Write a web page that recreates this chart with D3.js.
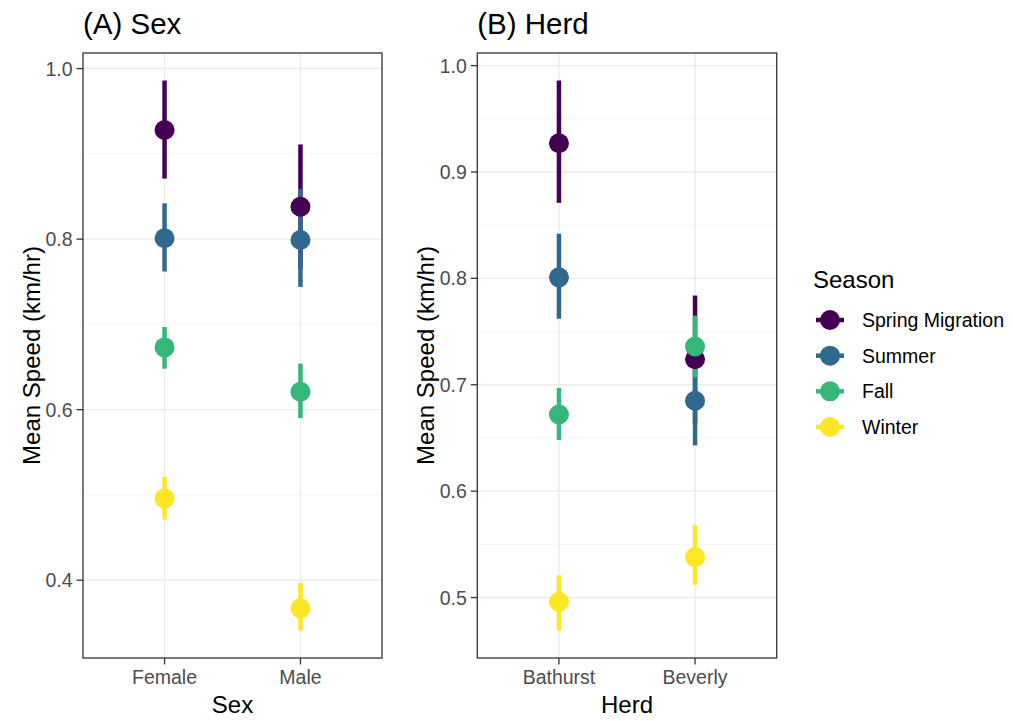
<!DOCTYPE html>
<html>
<head>
<meta charset="utf-8">
<script src="https://cdn.jsdelivr.net/npm/d3@7"></script>
<style>
  body { margin: 0; background: #fff; }
  svg { font-family: "Liberation Sans", Arial, sans-serif; }
  .grid-major { stroke: #ebebeb; stroke-width: 1.4; }
  .grid-minor { stroke: #f2f2f2; stroke-width: 0.8; }
  .tick-label { fill: #4d4d4d; font-size: 19.5px; }
  .axis-title { fill: #000; font-size: 24px; }
  .plot-title { fill: #000; font-size: 29.5px; }
</style>
</head>
<body>
<svg id="chart" width="1013" height="721"></svg>
<script>
'use strict';

/* DATA */
var seasons = ['Spring Migration', 'Summer', 'Fall', 'Winter'];
var seasonColors = ['#440154', '#31688e', '#35b779', '#fde725'];

var sexCats = ['Female', 'Male'];
// [season][category]
var sexMean  = [[0.928, 0.838], [0.801, 0.799], [0.673, 0.621], [0.496, 0.367]];
var sexLower = [[0.871, 0.765], [0.762, 0.744], [0.648, 0.590], [0.471, 0.341]];
var sexUpper = [[0.986, 0.911], [0.842, 0.859], [0.697, 0.654], [0.521, 0.397]];
var sexTicks = [0.4, 0.6, 0.8, 1.0];
var sexMinor = [0.5, 0.7, 0.9];

var herdCats = ['Bathurst', 'Beverly'];
var herdMean  = [[0.927, 0.724], [0.801, 0.685], [0.672, 0.736], [0.496, 0.538]];
var herdLower = [[0.871, 0.664], [0.762, 0.643], [0.648, 0.707], [0.469, 0.512]];
var herdUpper = [[0.986, 0.784], [0.842, 0.727], [0.697, 0.765], [0.521, 0.568]];
var herdTicks = [0.5, 0.6, 0.7, 0.8, 0.9, 1.0];
var herdMinor = [0.55, 0.65, 0.75, 0.85, 0.95];

var svg = d3.select('#chart');

var panelTop = 53, panelBottom = 658;

/* one panel of pointranges */
function drawPanel(opts) {
  var g = svg.append('g');
  var left = opts.left, right = opts.right;

  // flatten to rows
  var rows = [];
  seasons.forEach(function (s, si) {
    opts.cats.forEach(function (c, ci) {
      rows.push({
        season: si, cat: c,
        mean: opts.mean[si][ci], lo: opts.lower[si][ci], hi: opts.upper[si][ci]
      });
    });
  });

  // 5% expansion of the data range, like ggplot
  var ymin = d3.min(rows, function (d) { return d.lo; });
  var ymax = d3.max(rows, function (d) { return d.hi; });
  var pad = (ymax - ymin) * 0.05;
  var y = d3.scaleLinear().domain([ymin - pad, ymax + pad]).range([panelBottom, panelTop]);

  // discrete axis: positions 1..n inside [0.4, n + 0.6]
  var xPos = d3.scaleLinear().domain([0.4, opts.cats.length + 0.6]).range([left, right]);
  var x = function (c) { return xPos(opts.cats.indexOf(c) + 1); };

  // grid
  g.selectAll('.grid-minor').data(opts.minor).enter().append('line')
    .attr('class', 'grid-minor')
    .attr('x1', left).attr('x2', right)
    .attr('y1', function (d) { return y(d); }).attr('y2', function (d) { return y(d); });
  g.selectAll('.grid-major.h').data(opts.ticks).enter().append('line')
    .attr('class', 'grid-major h')
    .attr('x1', left).attr('x2', right)
    .attr('y1', function (d) { return y(d); }).attr('y2', function (d) { return y(d); });
  g.selectAll('.grid-major.v').data(opts.cats).enter().append('line')
    .attr('class', 'grid-major v')
    .attr('y1', panelTop).attr('y2', panelBottom)
    .attr('x1', function (d) { return x(d); }).attr('x2', function (d) { return x(d); });

  // all ranges first, then all points
  g.selectAll('.range').data(rows).enter().append('line')
    .attr('class', 'range')
    .attr('x1', function (d) { return x(d.cat); }).attr('x2', function (d) { return x(d.cat); })
    .attr('y1', function (d) { return y(d.lo); }).attr('y2', function (d) { return y(d.hi); })
    .attr('stroke', function (d) { return seasonColors[d.season]; })
    .attr('stroke-width', 4.5);
  g.selectAll('.pt').data(rows).enter().append('circle')
    .attr('class', 'pt')
    .attr('cx', function (d) { return x(d.cat); })
    .attr('cy', function (d) { return y(d.mean); })
    .attr('r', 10)
    .attr('fill', function (d) { return seasonColors[d.season]; });

  // border
  g.append('rect')
    .attr('x', left).attr('y', panelTop)
    .attr('width', right - left).attr('height', panelBottom - panelTop)
    .attr('fill', 'none').attr('stroke', '#333').attr('stroke-width', 1.3);

  // y ticks
  var yt = g.selectAll('.ytick').data(opts.ticks).enter().append('g');
  yt.append('line')
    .attr('x1', left - 6.5).attr('x2', left)
    .attr('y1', function (d) { return y(d); }).attr('y2', function (d) { return y(d); })
    .attr('stroke', '#333').attr('stroke-width', 1.3);
  yt.append('text')
    .attr('class', 'tick-label')
    .attr('x', left - 10.5)
    .attr('y', function (d) { return y(d); })
    .attr('dy', '0.36em')
    .attr('text-anchor', 'end')
    .text(function (d) { return d3.format('.1f')(d); });

  // x ticks
  var xt = g.selectAll('.xtick').data(opts.cats).enter().append('g');
  xt.append('line')
    .attr('x1', function (d) { return x(d); }).attr('x2', function (d) { return x(d); })
    .attr('y1', panelBottom).attr('y2', panelBottom + 6.5)
    .attr('stroke', '#333').attr('stroke-width', 1.3);
  xt.append('text')
    .attr('class', 'tick-label')
    .attr('x', function (d) { return x(d); })
    .attr('y', 684)
    .attr('text-anchor', 'middle')
    .text(function (d) { return d; });

  // titles
  g.append('text').attr('class', 'axis-title')
    .attr('x', (left + right) / 2).attr('y', 713)
    .attr('text-anchor', 'middle')
    .text(opts.xTitle);
  g.append('text').attr('class', 'axis-title')
    .attr('transform', 'translate(' + opts.yTitleX + ',' + ((panelTop + panelBottom) / 2) + ') rotate(-90)')
    .attr('text-anchor', 'middle')
    .text('Mean Speed (km/hr)');
  g.append('text').attr('class', 'plot-title')
    .attr('x', left).attr('y', 34)
    .text(opts.title);
}

drawPanel({
  left: 83, right: 382,
  cats: sexCats, mean: sexMean, lower: sexLower, upper: sexUpper,
  ticks: sexTicks, minor: sexMinor,
  title: '(A) Sex', xTitle: 'Sex', yTitleX: 40
});

drawPanel({
  left: 477.3, right: 776.7,
  cats: herdCats, mean: herdMean, lower: herdLower, upper: herdUpper,
  ticks: herdTicks, minor: herdMinor,
  title: '(B) Herd', xTitle: 'Herd', yTitleX: 434
});

/* Legend */
var legend = svg.append('g');
legend.append('text')
  .attr('x', 813).attr('y', 288)
  .attr('font-size', '24px')
  .text('Season');

var keyY = d3.scalePoint().domain(seasons).range([320, 427]);
var keys = legend.selectAll('.key').data(seasons).enter().append('g')
  .attr('transform', function (d) { return 'translate(830,' + keyY(d) + ')'; });
keys.append('line')
  .attr('x1', -14).attr('x2', 14)
  .attr('stroke', function (d, i) { return seasonColors[i]; })
  .attr('stroke-width', 4.5);
keys.append('circle')
  .attr('r', 10)
  .attr('fill', function (d, i) { return seasonColors[i]; });
keys.append('text')
  .attr('x', 32)
  .attr('dy', '0.36em')
  .attr('font-size', '19.5px')
  .text(function (d) { return d; });
</script>
</body>
</html>
